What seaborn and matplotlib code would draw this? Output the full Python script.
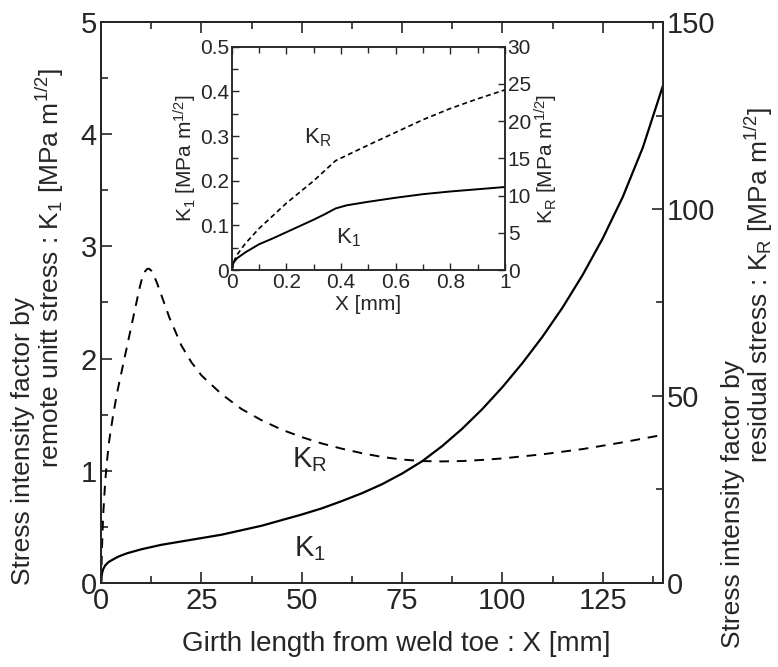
import matplotlib
matplotlib.use("Agg")
import matplotlib.pyplot as plt
from matplotlib.ticker import MultipleLocator
import numpy as np
import seaborn as sns

# main chart: girth length from weld toe X [mm]
x_k1 = [0, 0.1, 0.3, 0.6, 1, 1.5, 2, 3, 4, 5, 6.5, 8, 10, 12.5, 15, 20, 25,
        30, 35, 40, 45, 50, 55, 60, 65, 70, 75, 80, 85, 90, 95, 100, 105, 110,
        115, 120, 125, 130, 135, 140]
k1 = [0, 0.06, 0.10, 0.13, 0.155, 0.175, 0.19, 0.21, 0.23, 0.245, 0.265, 0.28,
      0.30, 0.32, 0.34, 0.37, 0.40, 0.43, 0.47, 0.51, 0.56, 0.61, 0.665, 0.73,
      0.80, 0.88, 0.975, 1.085, 1.22, 1.375, 1.55, 1.745, 1.96, 2.195, 2.455,
      2.745, 3.07, 3.44, 3.88, 4.43]
x_kr = [0, 0.2, 0.5, 1, 1.5, 2, 3, 4, 5, 6, 7, 8, 9, 9.5, 10, 10.5, 11, 11.5,
        12, 12.5, 13, 14, 15, 17, 20, 22.5, 25, 30, 35, 40, 45, 50, 55, 60, 65,
        70, 75, 80, 85, 90, 95, 100, 110, 120, 130, 140]
kr = [0, 9, 18, 27, 33, 38, 45, 51, 56, 61, 66, 71, 76, 78.5, 80.7, 82.3, 83.4,
      84, 84, 83.5, 82.6, 80, 77, 71, 63.5, 59, 55.5, 50.5, 46.5, 43.5, 41, 39,
      37.3, 35.9, 34.7, 33.7, 33, 32.6, 32.5, 32.6, 32.9, 33.3, 34.4, 35.8,
      37.6, 39.6]

# inset: X [mm] 0..1
xi_k1 = [0, 0.005, 0.01, 0.02, 0.05, 0.1, 0.15, 0.2, 0.25, 0.3, 0.34, 0.38,
         0.42, 0.5, 0.6, 0.7, 0.8, 0.9, 1.0]
ki_k1 = [0, 0.015, 0.02, 0.027, 0.04, 0.058, 0.071, 0.085, 0.099, 0.113, 0.125,
         0.138, 0.145, 0.153, 0.162, 0.170, 0.176, 0.181, 0.186]
xi_kr = [0, 0.01, 0.02, 0.05, 0.1, 0.2, 0.3, 0.38, 0.5, 0.6, 0.7, 0.8, 0.9, 1.0]
ki_kr = [0, 1.4, 2.1, 3.6, 5.6, 9.0, 12.0, 14.7, 16.8, 18.5, 20.2, 21.7, 23.0,
         24.2]

sns.set_style("ticks")
plt.rcParams["font.family"] = ["Liberation Sans", "DejaVu Sans"]
plt.rcParams["mathtext.default"] = "regular"

fig = plt.figure(figsize=(7.78, 6.67), dpi=100)
ax = fig.add_axes([0.13, 0.126, 0.722, 0.841])
ax2 = ax.twinx()

sns.lineplot(ax=ax, x=x_k1, y=k1, color="black", lw=1.6)
sns.lineplot(ax=ax2, x=x_kr, y=kr, color="black", lw=1.4, linestyle=(0, (5, 4)))

ax.set_xlim(0, 140)
ax.set_ylim(0, 5)
ax2.set_ylim(0, 150)
ax.xaxis.set_major_locator(MultipleLocator(25))
ax.xaxis.set_minor_locator(MultipleLocator(12.5))
ax.yaxis.set_major_locator(MultipleLocator(1))
ax.yaxis.set_minor_locator(MultipleLocator(0.5))
ax2.yaxis.set_major_locator(MultipleLocator(50))
ax2.yaxis.set_minor_locator(MultipleLocator(25))
for a in (ax, ax2):
    a.tick_params(which="both", direction="in", labelsize=21, width=1.2, pad=3)
    a.tick_params(which="major", length=8)
    a.tick_params(which="minor", length=5)
    for s in a.spines.values():
        s.set_linewidth(1.4)
        s.set_visible(True)
ax.tick_params(which="both", top=True)
ax.set_xlabel("Girth length from weld toe : X [mm]", fontsize=20)
ax.xaxis.set_label_coords(0.525, -0.085)

# two-line y labels, lines placed separately as in the original
fig.text(23 / 778, 1 - 585 / 667, "Stress intensity factor by",
         rotation=90, fontsize=19, ha="center", va="bottom")
fig.text(50 / 778, 1 - 268 / 667, "remote unitt stress : K$_1$ [MPa m$^{1/2}$]",
         rotation=90, fontsize=19, ha="center", va="center")
fig.text(733 / 778, 1 - 648 / 667, "Stress intensity factor by",
         rotation=90, fontsize=19, ha="center", va="bottom")
fig.text(759 / 778, 1 - 285 / 667, "residual stress : K$_R$ [MPa m$^{1/2}$]",
         rotation=90, fontsize=19, ha="center", va="center")

ax.text(52, 1.1, "K$_R$", fontsize=21, ha="center", va="center")
ax.text(52, 0.31, "K$_1$", fontsize=21, ha="center", va="center")

# inset
ins = fig.add_axes([0.298, 0.595, 0.351, 0.335])
ins2 = ins.twinx()
sns.lineplot(ax=ins, x=xi_k1, y=ki_k1, color="black", lw=1.4)
sns.lineplot(ax=ins2, x=xi_kr, y=ki_kr, color="black", lw=1.2, linestyle=(0, (3, 2)))
ins.set_xlim(0, 1)
ins.set_ylim(0, 0.5)
ins2.set_ylim(0, 30)
ins.xaxis.set_minor_locator(MultipleLocator(0.1))
ins.yaxis.set_minor_locator(MultipleLocator(0.05))
ins2.yaxis.set_major_locator(MultipleLocator(5))
ins.set_xticks(np.arange(0, 1.01, 0.2))
ins.set_xticklabels(["0", "0.2", "0.4", "0.6", "0.8", "1"])
ins.set_yticks(np.arange(0, 0.51, 0.1))
ins.set_yticklabels(["0", "0.1", "0.2", "0.3", "0.4", "0.5"])
for a in (ins, ins2):
    a.tick_params(which="both", direction="in", labelsize=15, pad=2, width=1)
    a.tick_params(which="major", length=5)
    a.tick_params(which="minor", length=4)
    for s in a.spines.values():
        s.set_linewidth(1.1)
        s.set_visible(True)
ins.tick_params(which="both", top=True)
ins.set_xlabel("X [mm]", fontsize=15, labelpad=2)
ins.set_ylabel("K$_1$ [MPa m$^{1/2}$]", fontsize=15, labelpad=1)
ins2.set_ylabel("K$_R$ [MPa m$^{1/2}$]", fontsize=15, labelpad=1)
ins.text(0.315, 0.296, "K$_R$", fontsize=16, ha="center", va="center")
ins.text(0.425, 0.072, "K$_1$", fontsize=16, ha="center", va="center")

fig.savefig("out.png", dpi=100)
